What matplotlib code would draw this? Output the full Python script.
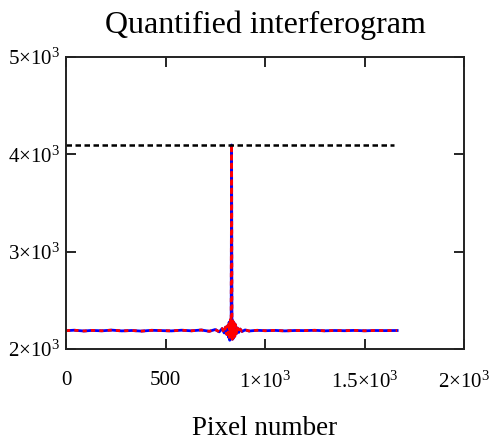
import numpy as np
import matplotlib
matplotlib.use('Agg')
import matplotlib.pyplot as plt

plt.rcParams['font.family'] = ['Liberation Serif', 'DejaVu Serif']
plt.rcParams['mathtext.fontset'] = 'custom'
plt.rcParams['mathtext.rm'] = 'Liberation Serif'
plt.rcParams['mathtext.it'] = 'Liberation Serif:italic'

# interferogram (pixel index, counts)
pixel = [0, 40, 90, 130, 180, 230, 280, 330, 380, 430,
         480, 530, 580, 630, 680, 720, 750, 770, 785, 795,
         802, 808, 813, 817, 820, 823, 826, 828, 830, 831,
         832, 833, 834, 836, 838, 841, 844, 848, 852, 857,
         862, 868, 875, 885, 900, 920, 960, 1000, 1050, 1100,
         1150, 1200, 1250, 1300, 1350, 1400, 1450, 1500, 1550, 1600,
         1664]
counts = [2188, 2193, 2185, 2191, 2187, 2194, 2186, 2190, 2184, 2192,
          2189, 2186, 2193, 2187, 2195, 2182, 2200, 2176, 2210, 2165,
          2225, 2150, 2240, 2120, 2275, 2090, 2300, 2140, 2260, 3120,
          4096, 3110, 2230, 2100, 2290, 2110, 2270, 2130, 2250, 2160,
          2215, 2170, 2205, 2180, 2196, 2185, 2192, 2188, 2191, 2186,
          2190, 2189, 2192, 2187, 2190, 2188, 2191, 2187, 2190, 2189,
          2190]

sat_x = [0, 1650]
sat_y = [4096, 4096]

xticks = [0, 500, 1000, 1500, 2000]
xlabels = ['0', '500', r'$1{\times}10^{3}$', r'$1.5{\times}10^{3}$', r'$2{\times}10^{3}$']
yticks = [2000, 3000, 4000, 5000]
ylabels = [r'$2{\times}10^{3}$', r'$3{\times}10^{3}$', r'$4{\times}10^{3}$', r'$5{\times}10^{3}$']

fig = plt.figure(figsize=(4.97, 4.43), dpi=100)
ax = fig.add_axes([66/497, 1-349/443, 398/497, 292/443])

ax.plot(pixel, counts, color='#0000ff', lw=2)
ax.plot(pixel, counts, color='#ff0000', lw=2, dashes=(1.5, 1.5))
ax.plot(sat_x, sat_y, color='k', lw=1.8, dashes=(2.2, 1.4))

ax.set_xlim(0, 2000)
ax.set_ylim(2000, 5000)
ax.set_xticks(xticks)
ax.set_xticklabels(xlabels)
ax.set_yticks(yticks)
ax.set_yticklabels(ylabels)
ax.tick_params(direction='in', length=7, width=1.2, top=True, right=True,
               labelsize=15, colors='k')
ax.tick_params(axis='x', pad=16)
ax.tick_params(axis='y', pad=4)
for s in ax.spines.values():
    s.set_linewidth(1.4)
    s.set_color('#222222')

ax.set_title('Quantified interferogram', fontsize=23, pad=17)
ax.set_xlabel('Pixel number', fontsize=19.5, labelpad=17)

fig.savefig('out.png', dpi=100)
